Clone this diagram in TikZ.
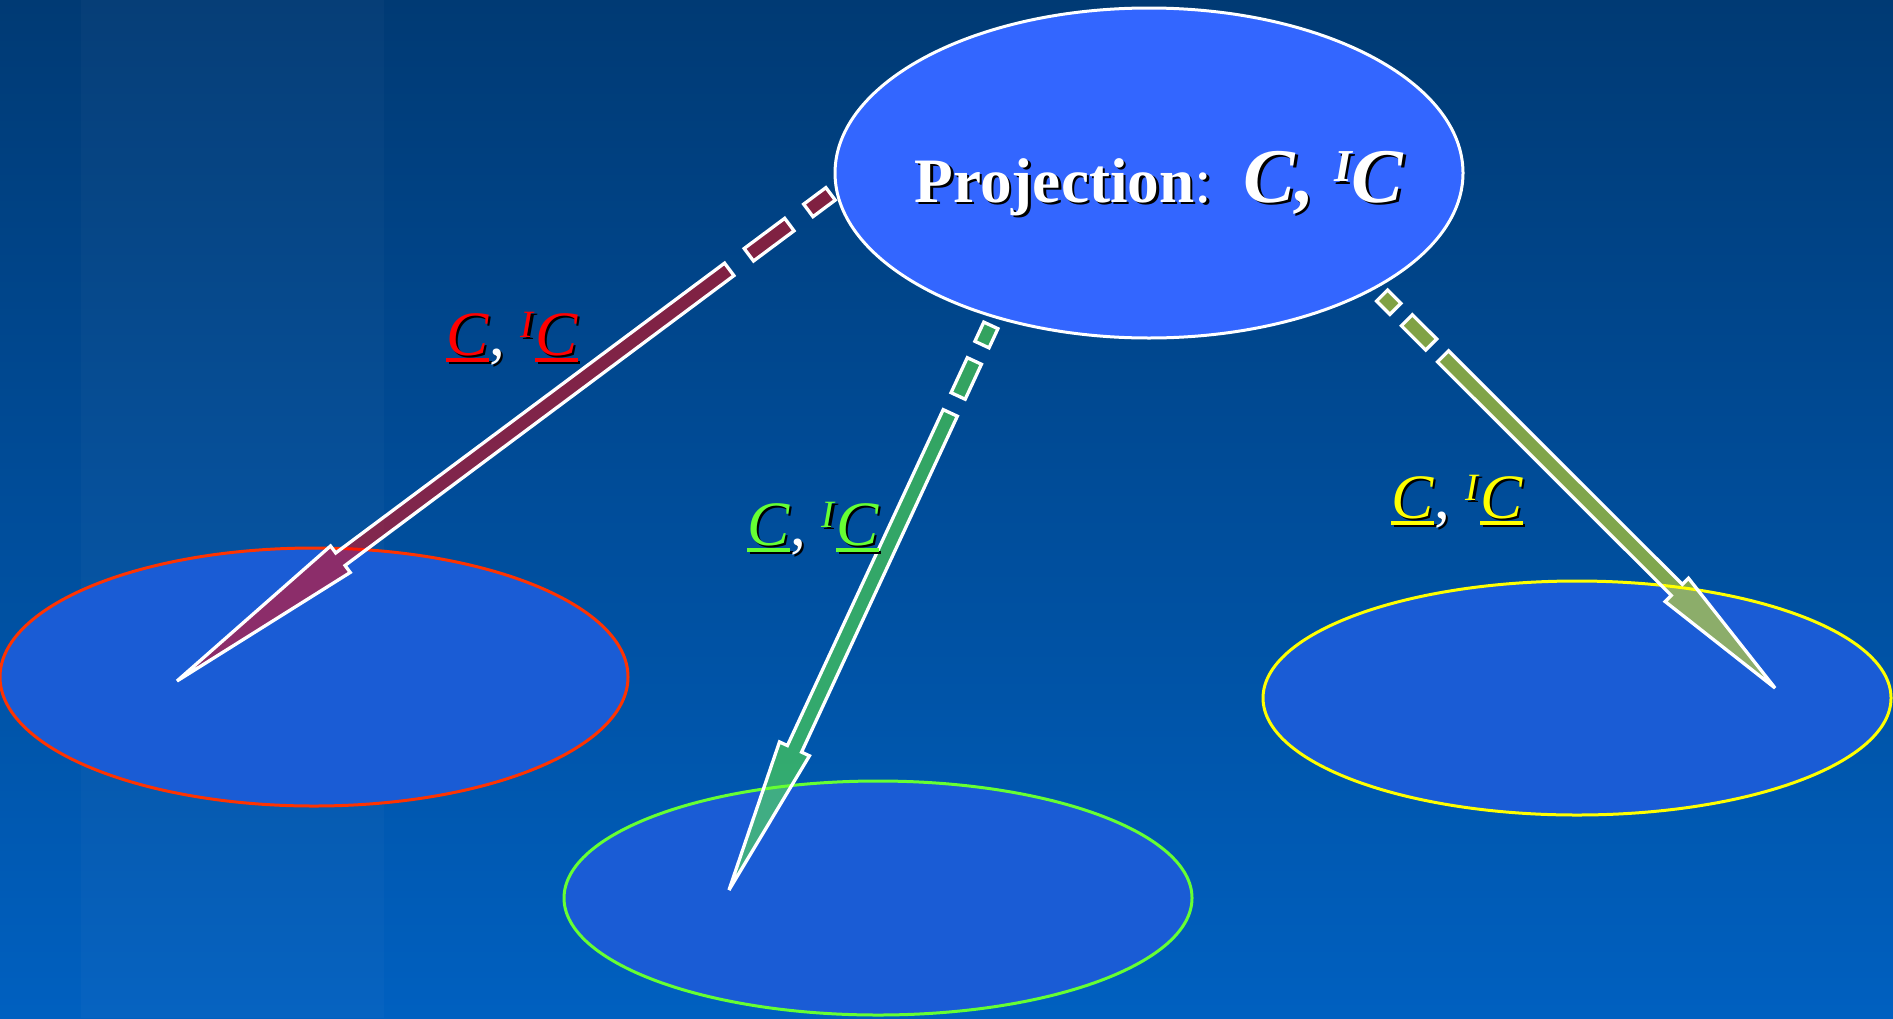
\documentclass[tikz,border=0pt]{standalone}
\usepackage{fontspec}
\setmainfont{Liberation Serif}
\usetikzlibrary{calc,shapes.geometric}

\definecolor{bgtop}{HTML}{003A74}
\definecolor{bgbot}{HTML}{0060C0}
\definecolor{projfill}{HTML}{3366FF}
\definecolor{setfill}{HTML}{1A5CD5}
\definecolor{setred}{HTML}{FF3300}
\definecolor{labred}{HTML}{FF0000}
\definecolor{labgreen}{HTML}{66FF33}
\definecolor{labyellow}{HTML}{FFFF00}

% text pieces
\newcommand{\ulC}{\setbox0\hbox{\textit{C}}\rlap{\rule[-0.105em]{\wd0}{0.05em}}\box0}
\newcommand{\supI}{\raisebox{0.28em}{\fontsize{11}{13}\selectfont\textit{I}}}
\newcommand{\pairtext}[2]{\textcolor{#1}{\ulC}\textcolor{#2}{,}\ \textcolor{#1}{\supI\ulC}}
\newcommand{\titletext}[1]{{\color{#1}\textbf{Projection}:\ \ {\fontsize{22}{26}\selectfont\bfseries\itshape C, \raisebox{0.26em}{\fontsize{13}{15}\selectfont I}C}}}
\newcommand{\withshadow}[2]{\rlap{\kern0.25mm\raisebox{-0.25mm}{#1}}#2}

% broken-tail block arrow: from, to, colour, gap at tail
\newcommand{\projarrow}[4]{%
  \path let \p1=(#1), \p2=(#2),
    \n1={atan2(\y2-\y1,\x2-\x1)}, \n2={veclen(\x2-\x1,\y2-\y1)-#4}
    in \pgfextra{\xdef\arrang{\n1}\xdef\arrlen{\n2}};
  \begin{scope}[shift={(#2)}, rotate=\arrang, x=1pt, y=0.1mm]
    \foreach \fa/\fb in {1/0.966, 0.937/0.875}
      \filldraw[arrowbody=#3] ({-\fa*\arrlen},-7.8) rectangle ({-\fb*\arrlen},7.8);
    \filldraw[arrowbody=#3] ({-0.845*\arrlen},-7.8) -- ({-0.25*\arrlen},-7.8)
      -- ({-0.25*\arrlen},-16.5) -- (0,0) -- ({-0.25*\arrlen},16.5)
      -- ({-0.25*\arrlen},7.8) -- ({-0.845*\arrlen},7.8) -- cycle;
  \end{scope}}

\begin{document}
\begin{tikzpicture}[x=0.1mm, y=-0.1mm,
    projnode/.style={ellipse, draw=white, line width=0.3mm, fill=projfill,
    minimum width=62.8mm, minimum height=33mm, inner sep=0pt, outer sep=0pt},
    setnode/.style={ellipse, fill=setfill, line width=0.3mm, minimum width=62.8mm,
    minimum height=23.4mm, inner sep=0pt, outer sep=0pt},
    arrowbody/.style={fill=#1, fill opacity=0.5, draw=white, line width=0.33mm,
    miter limit=4},
    lbl/.style={font=\fontsize{18}{22}\selectfont, inner sep=0pt, anchor=base},
    titletxt/.style={font=\fontsize{18}{22}\selectfont, inner sep=0pt, anchor=base}
]
% background
\useasboundingbox (0,0) rectangle (1893,1018);
\shade[top color=bgtop, bottom color=bgbot] (0,0) rectangle (1893,1018);
\fill[white, opacity=0.025] (81,0) rectangle (384,1018);

% sets
\node[setnode, draw=setred, minimum height=25.8mm] (redset) at (314,677) {};
\node[setnode, draw=labgreen] (greenset) at (878,898) {};
\node[setnode, draw=labyellow] (yellowset) at (1577,698) {};
\node[projnode] (proj) at (1149,173) {};
\node[titletxt] (title) at (1159,202) {\withshadow{\titletext{black}}{\titletext{white}}};

% arrow tips
\coordinate (redtip) at (177,681);
\coordinate (greentip) at (729,890);
\coordinate (yellowtip) at (1775,688);

\projarrow{proj.183}{redtip}{labred}{0.75mm}
\projarrow{proj.223}{greentip}{labgreen}{0.95mm}
\projarrow{proj.333}{yellowtip}{labyellow}{1.08mm}

% labels
\node[lbl] (redlbl) at (512,355) {\withshadow{\pairtext{black}{black}}{\pairtext{labred}{white}}};
\node[lbl] (greenlbl) at (813,545) {\withshadow{\pairtext{black}{black}}{\pairtext{labgreen}{white}}};
\node[lbl] (yellowlbl) at (1457,518) {\withshadow{\pairtext{black}{black}}{\pairtext{labyellow}{white}}};
\end{tikzpicture}
\end{document}
